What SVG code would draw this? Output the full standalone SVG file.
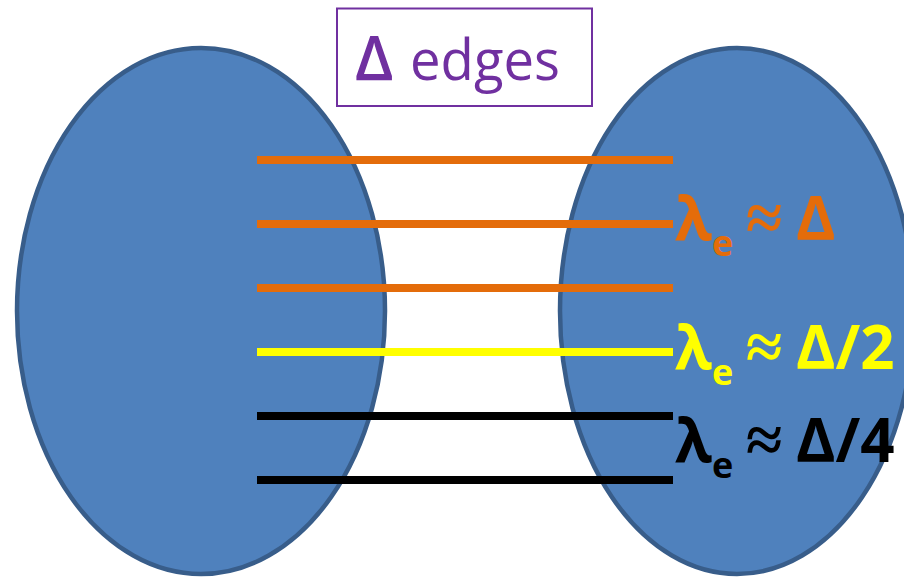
<svg xmlns="http://www.w3.org/2000/svg" width="904" height="577" viewBox="0 0 904 577">
<style>
.set{fill:#4F81BD;stroke:#385D8A;stroke-width:4.5}
.edge{stroke-width:8;fill:none}
.or{stroke:#E46C0A}.ye{stroke:#FFFF00}.bk{stroke:#000000}
.lbl{font-family:"Open Sans","Liberation Sans",sans-serif;font-weight:bold}
.big{font-size:60px}
.sub{font-size:36px}
.approx{font-family:"Liberation Serif","DejaVu Serif",serif;font-size:66px;font-weight:bold;text-anchor:middle}
</style>
<rect width="904" height="577" fill="#ffffff"/>
<g id="left-set"><ellipse class="set" cx="201" cy="311" rx="184" ry="263"/></g>
<g id="right-set"><ellipse class="set" cx="737" cy="311" rx="177" ry="263"/></g>
<g id="title">
<rect x="337" y="8.5" width="255" height="97.5" fill="#ffffff" stroke="#7030A0" stroke-width="2"/>
<text x="355" y="80" fill="#7030A0" font-family="'Open Sans','Liberation Sans',sans-serif" font-size="64"><tspan font-weight="600" font-size="62">Δ</tspan><tspan x="410" font-size="56" textLength="150" lengthAdjust="spacingAndGlyphs">edges</tspan></text>
</g>
<g id="connectors">
<line class="edge or" x1="257" y1="160" x2="673" y2="160"/>
<line class="edge or" x1="257" y1="224" x2="673" y2="224"/>
<line class="edge or" x1="257" y1="288" x2="673" y2="288"/>
<line class="edge ye" x1="257" y1="352" x2="673" y2="352"/>
<line class="edge bk" x1="257" y1="416" x2="673" y2="416"/>
<line class="edge bk" x1="257" y1="480" x2="673" y2="480"/>
</g>
<g id="label-orange" class="lbl" fill="#E46C0A">
<text class="big" x="675" y="240">λ</text>
<text class="sub" x="712" y="256">e</text>
<text class="approx" x="764" y="240">≈</text>
<text class="big" x="796" y="240">Δ</text>
</g>
<g id="label-yellow" class="lbl" fill="#FFFF00">
<text class="big" x="675" y="369">λ</text>
<text class="sub" x="712" y="385">e</text>
<text class="approx" x="764" y="369">≈</text>
<text class="big" x="796" y="369">Δ/2</text>
</g>
<g id="label-black" class="lbl" fill="#000000">
<text class="big" x="675" y="462">λ</text>
<text class="sub" x="712" y="478">e</text>
<text class="approx" x="764" y="462">≈</text>
<text class="big" x="796" y="462">Δ/4</text>
</g>
</svg>
